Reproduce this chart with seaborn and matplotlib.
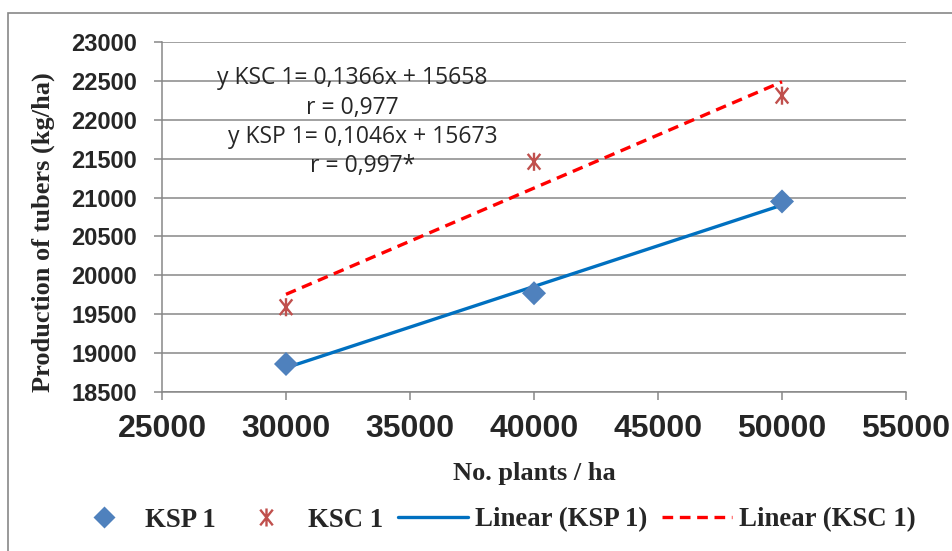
import numpy as np
import pandas as pd
import seaborn as sns
import matplotlib.pyplot as plt
from matplotlib.patches import Rectangle
from matplotlib.lines import Line2D
from matplotlib.path import Path

# Dados
plants = [30000, 40000, 50000]
ksp1 = [18860, 19770, 20950]
ksc1 = [19590, 21460, 22310]

# Coeficientes das retas (equações mostradas no gráfico)
ksp_slope, ksp_icpt = 0.1046, 15673
ksc_slope, ksc_icpt = 0.1366, 15658

eq_labels = ["y KSC 1= 0,1366x + 15658", "r = 0,977",
             "y KSP 1= 0,1046x + 15673", "r = 0,997*"]

sns.set_style("white")
plt.rcParams['font.family'] = ['Liberation Sans', 'DejaVu Sans']

pts = pd.DataFrame({'x': plants, 'KSP 1': ksp1, 'KSC 1': ksc1})
x_fit = np.array([plants[0], plants[-1]])
fit = pd.DataFrame({'x': x_fit,
                    'ksp': ksp_slope * x_fit + ksp_icpt,
                    'ksc': ksc_slope * x_fit + ksc_icpt})

# Marcador estrela do Excel (X + traço vertical)
star = Path([(-0.8, -1), (0.8, 1), (-0.8, 1), (0.8, -1), (0, -1.15), (0, 1.15)],
            [Path.MOVETO, Path.LINETO, Path.MOVETO, Path.LINETO,
             Path.MOVETO, Path.LINETO])

fig = plt.figure(figsize=(9.53, 5.51), dpi=100)
ax = fig.add_axes([162 / 953, 1 - 392 / 551, (906 - 162) / 953, (392 - 42) / 551])

grey = '#878787'
blue_m = '#4F81BD'
red_m = '#C0504D'

# Linhas de tendência
sns.lineplot(ax=ax, data=fit, x='x', y='ksp', color='#0070C0', lw=2.4, zorder=3)
sns.lineplot(ax=ax, data=fit, x='x', y='ksc', color='#FF0000', lw=2.4,
             dashes=False, zorder=3)
ax.lines[-1].set_dashes([3.2, 2.0])

# Pontos
sns.scatterplot(ax=ax, data=pts, x='x', y='KSP 1', marker='D', s=150,
                color=blue_m, edgecolor='none', zorder=4)
sns.scatterplot(ax=ax, data=pts, x='x', y='KSC 1', marker=star, s=170,
                facecolor='none', edgecolor=red_m, linewidth=1.7, zorder=4)

ax.set_xlim(25000, 55000)
ax.set_ylim(18500, 23000)
ax.set_xticks(np.arange(25000, 55001, 5000))
ax.set_yticks(np.arange(18500, 23001, 500))
ax.yaxis.grid(True, color=grey, lw=1.1)
ax.xaxis.grid(False)
for s in ['top', 'right']:
    ax.spines[s].set_visible(False)
for s in ['left', 'bottom']:
    ax.spines[s].set_color(grey)
    ax.spines[s].set_linewidth(1.1)
ax.tick_params(axis='y', direction='out', length=6, width=1.1, color=grey,
               pad=12, left=True, labelsize=17)
ax.tick_params(axis='x', direction='out', length=6, width=1.1, color=grey,
               pad=10, bottom=True, labelsize=23)
for lab in ax.get_xticklabels() + ax.get_yticklabels():
    lab.set_fontweight('bold')

ax.set_xlabel('No. plants / ha', family='Liberation Serif', fontsize=19,
              fontweight='bold', labelpad=13)
ax.set_ylabel('Production of tubers (kg/ha)', family='Liberation Serif',
              fontsize=19, fontweight='bold')
ax.yaxis.set_label_coords((55 - 162) / 744, (392 - 232) / 350)

# Equações
eq_pos = [(352, 78), (352, 108), (363, 137), (363, 166)]
for txt, (px, py) in zip(eq_labels, eq_pos):
    fig.text(px / 953, 1 - py / 551, txt, ha='center', va='center',
             fontsize=16.5, family='Open Sans')

# Legenda
handles = [
    Line2D([], [], ls='none', marker='D', ms=11, color=blue_m, mec='none'),
    Line2D([], [], ls='none', marker=star, ms=13, mew=1.7, mfc='none',
           mec=red_m),
    Line2D([], [], color='#0070C0', lw=2.4),
    Line2D([], [], color='#FF0000', lw=2.4, dashes=[3.2, 2.0]),
]
fig.legend(handles, ['KSP 1', 'KSC 1', 'Linear (KSP 1)', 'Linear (KSC 1)'],
           loc='center', bbox_to_anchor=(492 / 953, 1 - 520 / 551), ncol=4,
           frameon=False, handlelength=2.6, handletextpad=0.26,
           columnspacing=0.56,
           prop={'family': 'Liberation Serif', 'weight': 'bold', 'size': 19.3})

# Moldura do gráfico
fig.patches.append(Rectangle((8 / 953, -0.1), 1.0, 1.1 - 13 / 551,
                             transform=fig.transFigure, fill=False,
                             edgecolor=grey, lw=1.2))

fig.savefig('out.png', dpi=100)
